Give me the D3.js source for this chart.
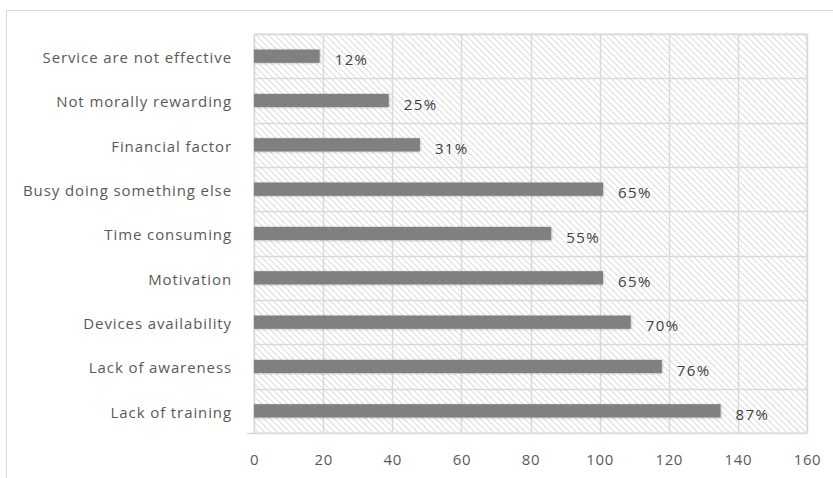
<!DOCTYPE html>
<html>
<head>
<meta charset="utf-8">
<script src="https://cdn.jsdelivr.net/npm/d3@7"></script>
<style>
  html, body { margin: 0; padding: 0; background: #fff; }
  #chart { width: 833px; height: 478px; }
</style>
</head>
<body>
<div id="chart"></div>
<script>
const categories = [
  "Service are not effective",
  "Not morally rewarding",
  "Financial factor",
  "Busy doing something else",
  "Time consuming",
  "Motivation",
  "Devices availability",
  "Lack of awareness",
  "Lack of training"
];
const values = [19, 39, 48, 101, 86, 101, 109, 118, 135];
const valueLabels = ["12%", "25%", "31%", "65%", "55%", "65%", "70%", "76%", "87%"];
const xTicks = [0, 20, 40, 60, 80, 100, 120, 140, 160];

const W = 833, H = 478;
const M = { top: 34, right: 26, bottom: 45, left: 254 };
const iW = W - M.left - M.right;
const iH = H - M.top - M.bottom;
const font = "'Open Sans', sans-serif";

const svg = d3.select("#chart").append("svg")
  .attr("width", W).attr("height", H);

const defs = svg.append("defs");
defs.append("pattern")
  .attr("id", "hatch")
  .attr("patternUnits", "userSpaceOnUse")
  .attr("width", 4.5).attr("height", 4.5)
  .attr("patternTransform", "rotate(-45)")
  .append("line")
  .attr("x1", 0).attr("y1", 0).attr("x2", 0).attr("y2", 4.5)
  .attr("stroke", "#d4d4d4").attr("stroke-width", 1.6);

const shadow = defs.append("filter").attr("id", "shadow")
  .attr("x", "-5%").attr("y", "-50%").attr("width", "110%").attr("height", "200%");
shadow.append("feDropShadow")
  .attr("dx", 0.5).attr("dy", 0.5).attr("stdDeviation", 0.8)
  .attr("flood-color", "#000").attr("flood-opacity", 0.25);

// outer frame
svg.append("rect")
  .attr("x", 6.5).attr("y", 10.5).attr("width", W).attr("height", H)
  .attr("fill", "none").attr("stroke", "#d9d9d9");

const g = svg.append("g").attr("transform", `translate(${M.left},${M.top})`);

const x = d3.scaleLinear().domain([0, 160]).range([0, iW]);
const y = d3.scaleBand().domain(categories).range([0, iH]).paddingInner(0.7).paddingOuter(0.35);
const yb = d3.scaleBand().domain(categories).range([0, iH]);

// hatched plot area
g.append("rect")
  .attr("x", 0).attr("y", 0).attr("width", iW).attr("height", iH)
  .attr("fill", "url(#hatch)").attr("stroke", "#d9d9d9");

// grid
g.append("g").selectAll("line")
  .data(xTicks).enter().append("line")
  .attr("x1", d => Math.round(x(d)) + 0.5).attr("x2", d => Math.round(x(d)) + 0.5)
  .attr("y1", 0).attr("y2", iH)
  .attr("stroke", "#d9d9d9").attr("stroke-width", 1.5);

g.append("g").selectAll("line")
  .data(categories).enter().append("line")
  .attr("x1", 0).attr("x2", iW)
  .attr("y1", d => Math.round(yb(d)) + 0.5).attr("y2", d => Math.round(yb(d)) + 0.5)
  .attr("stroke", "#d9d9d9").attr("stroke-width", 1.5);

// x axis
g.append("g").attr("transform", `translate(0,${iH})`)
  .call(d3.axisBottom(x).tickValues(xTicks).tickSize(0).tickPadding(21))
  .call(ax => ax.select(".domain").remove())
  .call(ax => ax.selectAll("text")
    .style("fill", "#595959")
    .style("font-family", font)
    .style("font-size", "15px")
    .style("letter-spacing", "0.6px"));

g.append("line")
  .attr("x1", -7).attr("x2", iW)
  .attr("y1", iH + 0.5).attr("y2", iH + 0.5)
  .attr("stroke", "#d9d9d9").attr("stroke-width", 1.5);

// y axis labels
g.append("g")
  .call(d3.axisLeft(yb).tickSize(0).tickPadding(22))
  .call(ax => ax.select(".domain").remove())
  .call(ax => ax.selectAll("text")
    .attr("dy", "0.45em")
    .style("fill", "#595959")
    .style("font-family", font)
    .style("font-size", "15px")
    .style("letter-spacing", "0.9px"));

// bars
g.append("g").selectAll("rect")
  .data(values).enter().append("rect")
  .attr("x", 0)
  .attr("y", (d, i) => y(categories[i]))
  .attr("width", d => x(d))
  .attr("height", y.bandwidth())
  .attr("fill", "#808080")
  .attr("filter", "url(#shadow)");

// value labels
g.append("g").selectAll("text")
  .data(values).enter().append("text")
  .attr("x", d => x(d) + 15)
  .attr("y", (d, i) => y(categories[i]) + y.bandwidth() / 2 + 4)
  .attr("dy", "0.35em")
  .style("fill", "#404040")
  .style("font-family", font)
  .style("font-size", "15px")
  .style("letter-spacing", "1.4px")
  .text((d, i) => valueLabels[i]);
</script>
</body>
</html>
